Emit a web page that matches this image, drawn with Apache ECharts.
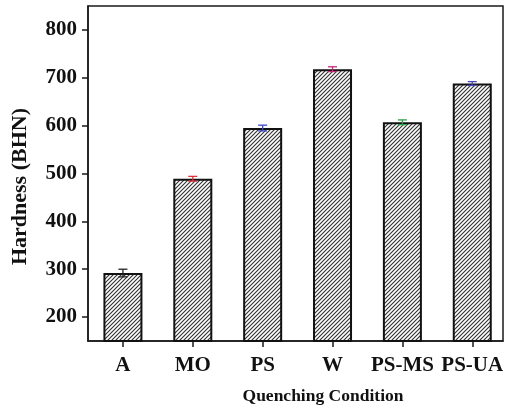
<!DOCTYPE html>
<html>
<head>
<meta charset="utf-8">
<script src="https://cdn.jsdelivr.net/npm/echarts@6/dist/echarts.min.js"></script>
<style>
  html, body { margin: 0; padding: 0; background: #fff; }
  #chart { width: 505px; height: 408px; }
</style>
</head>
<body>
<div id="chart"></div>
<script>
const categories = ['A', 'MO', 'PS', 'W', 'PS-MS', 'PS-UA'];
const hardness = [292, 489, 595, 718, 607, 688];
const errors = [8, 5, 6, 5, 5, 4];
const errorColors = ['#222222', '#e0303a', '#3a48c8', '#c8287a', '#28a048', '#4848b8'];
const yTicks = [200, 300, 400, 500, 600, 700, 800];

const font = '"Liberation Serif", "Times New Roman", serif';

// hatch tile: "/" stripes
function makeHatch() {
  const c = document.createElement('canvas');
  c.width = 4; c.height = 4;
  const ctx = c.getContext('2d');
  ctx.fillStyle = '#ffffff';
  ctx.fillRect(0, 0, 4, 4);
  ctx.strokeStyle = '#333333';
  ctx.lineWidth = 1.15;
  ctx.beginPath();
  ctx.moveTo(-1, 5); ctx.lineTo(5, -1);
  ctx.moveTo(-1, 1); ctx.lineTo(1, -1);
  ctx.moveTo(3, 5); ctx.lineTo(5, 3);
  ctx.stroke();
  return c;
}

const barData = hardness.map((v, i) => [i + 1, v]);
const errData = hardness.map((v, i) => [i + 1, v - errors[i], v + errors[i]]);

const chart = echarts.init(document.getElementById('chart'));
chart.setOption({
  animation: false,
  backgroundColor: '#ffffff',
  grid: {
    left: 88, right: 2, top: 6, bottom: 67,
    outerBoundsMode: 'none',
    show: true, borderColor: '#1a1a1a', borderWidth: 1.5
  },
  xAxis: {
    type: 'value',
    min: 0.5,
    max: 6.44,
    name: 'Quenching Condition',
    nameLocation: 'middle',
    nameGap: 46,
    nameTextStyle: { fontFamily: font, fontWeight: 'bold', fontSize: 17.5, color: '#111', padding: [0, 0, 0, 55] },
    splitLine: { show: false },
    axisLine: { show: true, lineStyle: { color: '#1a1a1a', width: 1.5 } },
    axisTick: { show: true, customValues: [1, 2, 3, 4, 5, 6], length: 6, lineStyle: { color: '#1a1a1a', width: 1.5 } },
    axisLabel: {
      customValues: [1, 2, 3, 4, 5, 6],
      margin: 14,
      fontFamily: font, fontWeight: 'bold', fontSize: 21, color: '#111',
      formatter: v => categories[Math.round(v) - 1] || ''
    }
  },
  yAxis: {
    type: 'value',
    min: 150,
    max: 850,
    splitLine: { show: false },
    axisLine: { show: true, lineStyle: { color: '#1a1a1a', width: 1.5 } },
    axisTick: { show: true, customValues: yTicks, length: 6, lineStyle: { color: '#1a1a1a', width: 1.5 } },
    axisLabel: {
      customValues: yTicks,
      margin: 11,
      fontFamily: font, fontWeight: 'bold', fontSize: 21, color: '#111'
    }
  },
  graphic: [{
    type: 'text',
    left: 9,
    top: 108,
    rotation: Math.PI / 2,
    style: {
      text: 'Hardness (BHN)',
      font: 'bold 22px ' + font,
      fill: '#111'
    }
  }],
  series: [{
    type: 'bar',
    data: barData,
    barWidth: 39,
    itemStyle: {
      color: { image: makeHatch(), repeat: 'repeat' },
      borderColor: '#111',
      borderWidth: 2
    }
  }, {
    type: 'custom',
    data: errData,
    z: 5,
    renderItem: function (params, api) {
      const x = api.value(0);
      const lo = api.coord([x, api.value(1)]);
      const hi = api.coord([x, api.value(2)]);
      const col = errorColors[params.dataIndex];
      const cap = 4.5;
      return {
        type: 'group',
        children: [
          { type: 'line', shape: { x1: hi[0], y1: hi[1], x2: lo[0], y2: lo[1] }, style: { stroke: col, lineWidth: 1.3 } },
          { type: 'line', shape: { x1: hi[0] - cap, y1: hi[1], x2: hi[0] + cap, y2: hi[1] }, style: { stroke: col, lineWidth: 1.3 } },
          { type: 'line', shape: { x1: lo[0] - cap, y1: lo[1], x2: lo[0] + cap, y2: lo[1] }, style: { stroke: col, lineWidth: 1.3 } }
        ]
      };
    }
  }]
});
</script>
</body>
</html>
